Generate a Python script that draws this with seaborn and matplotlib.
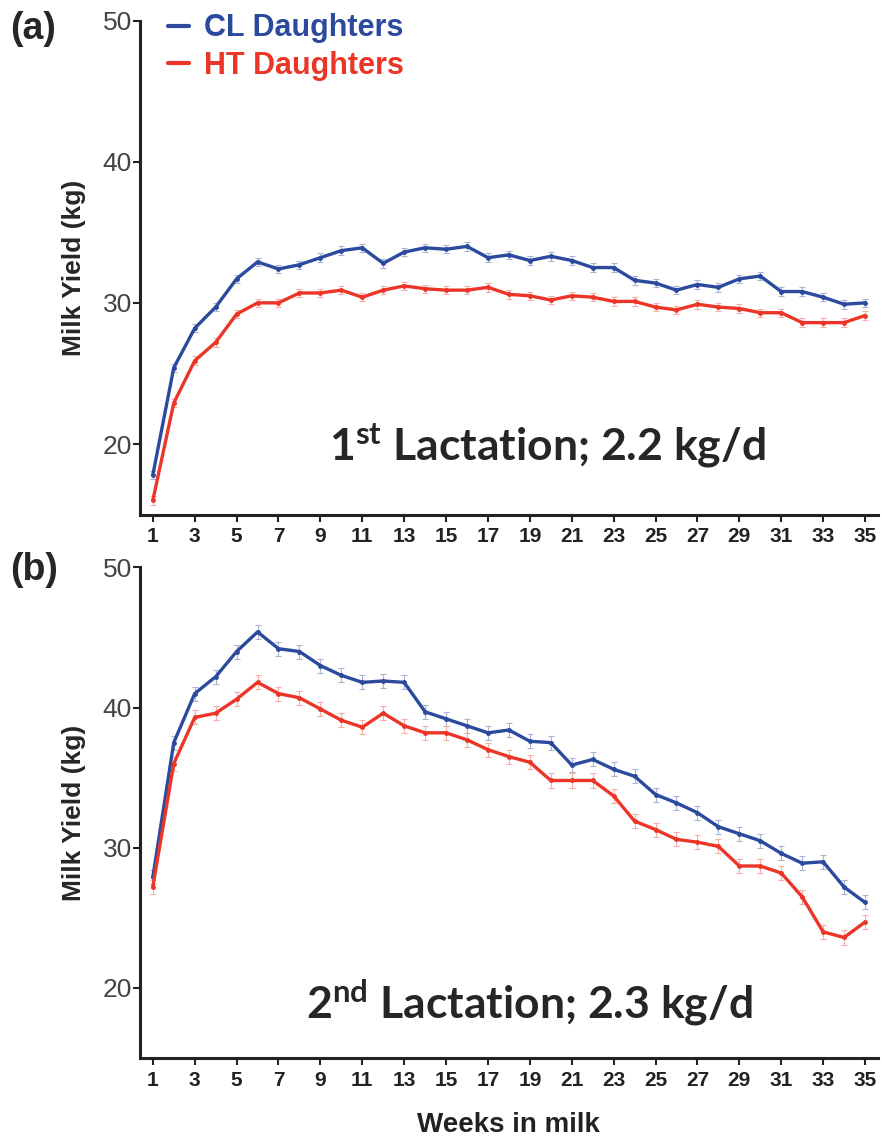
import numpy as np
import pandas as pd
import matplotlib
matplotlib.use("Agg")
import matplotlib.pyplot as plt
import seaborn as sns

weeks = list(range(1, 36))

cl_1st = [17.8, 25.4, 28.2, 29.7, 31.7, 32.9, 32.4, 32.7, 33.2, 33.7, 33.9, 32.8,
          33.6, 33.9, 33.8, 34.0, 33.2, 33.4, 33.0, 33.3, 33.0, 32.5, 32.5, 31.6,
          31.4, 30.9, 31.3, 31.1, 31.7, 31.9, 30.8, 30.8, 30.4, 29.9, 30.0]
ht_1st = [16.0, 22.9, 25.9, 27.2, 29.2, 30.0, 30.0, 30.7, 30.7, 30.9, 30.4, 30.9,
          31.2, 31.0, 30.9, 30.9, 31.1, 30.6, 30.5, 30.2, 30.5, 30.4, 30.1, 30.1,
          29.7, 29.5, 29.9, 29.7, 29.6, 29.3, 29.3, 28.6, 28.6, 28.6, 29.1]
cl_2nd = [27.9, 37.5, 41.0, 42.2, 44.0, 45.4, 44.2, 44.0, 43.0, 42.3, 41.8, 41.9,
          41.8, 39.7, 39.2, 38.7, 38.2, 38.4, 37.6, 37.5, 35.9, 36.3, 35.6, 35.1,
          33.8, 33.2, 32.5, 31.5, 31.0, 30.5, 29.6, 28.9, 29.0, 27.2, 26.1]
ht_2nd = [27.2, 36.0, 39.3, 39.6, 40.6, 41.8, 41.0, 40.7, 39.9, 39.1, 38.6, 39.6,
          38.7, 38.2, 38.2, 37.7, 37.0, 36.5, 36.1, 34.8, 34.8, 34.8, 33.7, 31.9,
          31.3, 30.6, 30.4, 30.1, 28.7, 28.7, 28.2, 26.5, 24.0, 23.6, 24.7]
sem_1st = [0.3] * 35
sem_2nd = [0.5] * 35

groups = ["CL Daughters", "HT Daughters"]
panel_labels = ["(a)", "(b)"]
lact_texts = [r"1$^{\mathbf{st}}$ Lactation; 2.2 kg/d",
              r"2$^{\mathbf{nd}}$ Lactation; 2.3 kg/d"]
yticks = [20, 30, 40, 50]
xticks = list(range(1, 36, 2))

colors = {"CL Daughters": "#2B4A9E", "HT Daughters": "#EC3527"}
err_colors = {"CL Daughters": "#A8B3D6", "HT Daughters": "#F5AEA6"}

sns.set_style("white")
plt.rcParams["font.family"] = ["Liberation Sans", "DejaVu Sans"]
plt.rcParams["mathtext.fontset"] = "custom"
plt.rcParams["mathtext.rm"] = "Lato"
plt.rcParams["mathtext.bf"] = "Lato:bold"

fig = plt.figure(figsize=(8.82, 11.41), dpi=100)
ax_a = fig.add_axes([0.159, 0.549, 0.836, 0.433])
ax_b = fig.add_axes([0.159, 0.0727, 0.836, 0.430])

datasets = [(ax_a, cl_1st, ht_1st, sem_1st), (ax_b, cl_2nd, ht_2nd, sem_2nd)]
for i, (ax, cl, ht, sem) in enumerate(datasets):
    df = pd.DataFrame({
        "week": weeks * 2,
        "yield": cl + ht,
        "group": [groups[0]] * 35 + [groups[1]] * 35,
        "err": sem + sem,
    })
    for g in groups:
        sub = df[df["group"] == g]
        ax.errorbar(sub["week"], sub["yield"], yerr=sub["err"], fmt="none",
                    ecolor=err_colors[g], elinewidth=0.8, capsize=2.5, capthick=0.8, zorder=1)
    sns.lineplot(data=df, x="week", y="yield", hue="group", palette=colors,
                 marker="o", markersize=3.5, markeredgewidth=0, linewidth=2.4,
                 ax=ax, legend=(i == 0), zorder=3)
    ax.set_xlim(0.4, 35.6)
    ax.set_ylim(15, 50)
    ax.set_yticks(yticks)
    ax.set_xticks(xticks)
    ax.set_xticklabels([str(x) for x in xticks], fontsize=15, fontweight="bold",
                       color="#222222")
    ax.set_yticklabels([str(y) for y in yticks], fontsize=19, color="#444444")
    for s in ["top", "right"]:
        ax.spines[s].set_visible(False)
    for s in ["left", "bottom"]:
        ax.spines[s].set_color("#222222")
        ax.spines[s].set_linewidth(2.2)
    ax.tick_params(axis="both", which="major", direction="out", length=5,
                   width=1.5, color="#222222", left=True, bottom=True)
    ax.tick_params(axis="x", pad=4)
    ax.tick_params(axis="y", pad=1)
    ax.set_ylabel("Milk Yield (kg)", fontsize=19, fontweight="bold", labelpad=12)
    ax.set_xlabel("")

ax_b.set_xlabel("Weeks in milk", fontsize=20, fontweight="bold", labelpad=16,
                color="#222222")

leg = ax_a.legend(loc="upper left", bbox_to_anchor=(0.0, 1.07), frameon=False,
                  handlelength=0.7, handletextpad=0.5, labelspacing=0.25,
                  prop={"weight": "bold", "size": 22}, labelcolor="linecolor")
for h in leg.get_lines():
    h.set_marker("")
    h.set_linewidth(3)

fig.text(0.012, 0.975, "(a)", fontsize=27, fontweight="bold", ha="left", va="center")
fig.text(0.012, 0.500, "(b)", fontsize=27, fontweight="bold", ha="left", va="center")

fig.text(0.621, 0.596, lact_texts[0], fontsize=32, fontweight="bold",
         family="Lato", ha="center", va="baseline")
fig.text(0.600, 0.107, lact_texts[1], fontsize=32, fontweight="bold",
         family="Lato", ha="center", va="baseline")

fig.savefig("out.png", dpi=100)
